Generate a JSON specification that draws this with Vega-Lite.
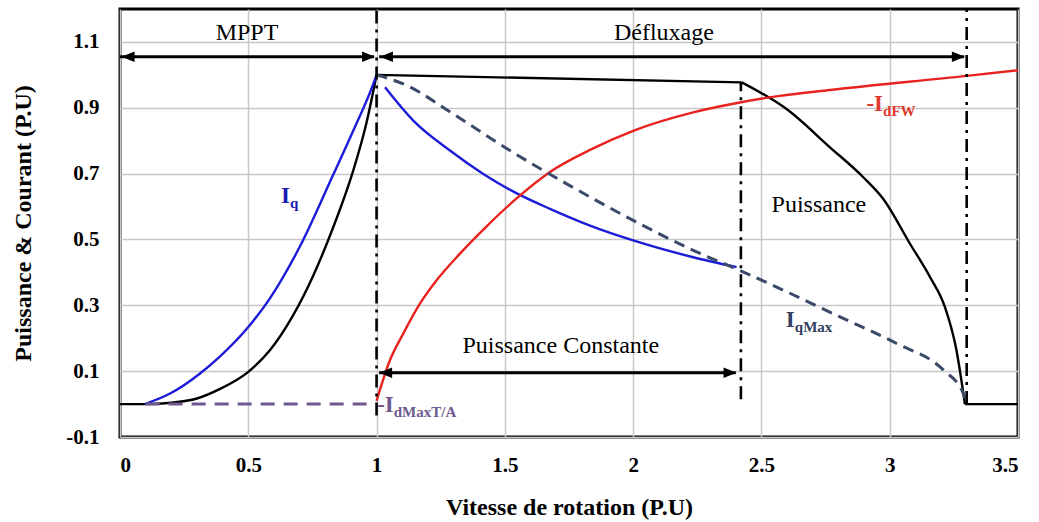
{
  "$schema": "https://vega.github.io/schema/vega-lite/v6.json",
  "width": 898,
  "height": 428,
  "autosize": {"type": "none"},
  "padding": {"left": 120, "top": 9, "right": 21, "bottom": 85},
  "background": "white",
  "config": {
    "view": {"stroke": "black", "strokeWidth": 3},
    "font": "Liberation Serif, Times New Roman, serif",
    "text": {"font": "Liberation Serif, Times New Roman, serif"}
  },
  "resolve": {"scale": {"color": "independent", "strokeDash": "independent"}},
  "datasets": {
    "curves": [
      {"c": "P", "s": "P1", "x": 0, "y": 0},
      {"c": "P", "s": "P1", "x": 0.1, "y": 0},
      {"c": "P", "s": "P1", "x": 0.2, "y": 0.004},
      {"c": "P", "s": "P1", "x": 0.3, "y": 0.017},
      {"c": "P", "s": "P1", "x": 0.39, "y": 0.046},
      {"c": "P", "s": "P1", "x": 0.5, "y": 0.098},
      {"c": "P", "s": "P1", "x": 0.585, "y": 0.164},
      {"c": "P", "s": "P1", "x": 0.675, "y": 0.27},
      {"c": "P", "s": "P1", "x": 0.753, "y": 0.39},
      {"c": "P", "s": "P1", "x": 0.831, "y": 0.537},
      {"c": "P", "s": "P1", "x": 0.909, "y": 0.709},
      {"c": "P", "s": "P1", "x": 0.961, "y": 0.855},
      {"c": "P", "s": "P1", "x": 1.0, "y": 1.0},
      {"c": "P", "s": "P2", "x": 1.0, "y": 1.0},
      {"c": "P", "s": "P2", "x": 2.423, "y": 0.977},
      {"c": "P", "s": "P3", "x": 2.423, "y": 0.977},
      {"c": "P", "s": "P3", "x": 2.598, "y": 0.896},
      {"c": "P", "s": "P3", "x": 2.767, "y": 0.78},
      {"c": "P", "s": "P3", "x": 2.897, "y": 0.689},
      {"c": "P", "s": "P3", "x": 2.975, "y": 0.623},
      {"c": "P", "s": "P3", "x": 3.079, "y": 0.487},
      {"c": "P", "s": "P3", "x": 3.157, "y": 0.386},
      {"c": "P", "s": "P3", "x": 3.215, "y": 0.295},
      {"c": "P", "s": "P3", "x": 3.26, "y": 0.164},
      {"c": "P", "s": "P3", "x": 3.293, "y": 0.0},
      {"c": "P", "s": "P4", "x": 3.293, "y": 0.0},
      {"c": "P", "s": "P4", "x": 3.5, "y": 0.0},
      {"c": "Iq", "s": "Iq1", "x": 0.097, "y": 0},
      {"c": "Iq", "s": "Iq1", "x": 0.195, "y": 0.032},
      {"c": "Iq", "s": "Iq1", "x": 0.312, "y": 0.093},
      {"c": "Iq", "s": "Iq1", "x": 0.39, "y": 0.145},
      {"c": "Iq", "s": "Iq1", "x": 0.5, "y": 0.234},
      {"c": "Iq", "s": "Iq1", "x": 0.585, "y": 0.322},
      {"c": "Iq", "s": "Iq1", "x": 0.7, "y": 0.477},
      {"c": "Iq", "s": "Iq1", "x": 0.83, "y": 0.695},
      {"c": "Iq", "s": "Iq1", "x": 0.909, "y": 0.83},
      {"c": "Iq", "s": "Iq1", "x": 0.987, "y": 0.972},
      {"c": "Iq", "s": "Iq1", "x": 1.0, "y": 1.0},
      {"c": "Iq", "s": "Iq2", "x": 1.033, "y": 0.962},
      {"c": "Iq", "s": "Iq2", "x": 1.143, "y": 0.861},
      {"c": "Iq", "s": "Iq2", "x": 1.286, "y": 0.77},
      {"c": "Iq", "s": "Iq2", "x": 1.416, "y": 0.699},
      {"c": "Iq", "s": "Iq2", "x": 1.539, "y": 0.643},
      {"c": "Iq", "s": "Iq2", "x": 1.676, "y": 0.593},
      {"c": "Iq", "s": "Iq2", "x": 1.832, "y": 0.542},
      {"c": "Iq", "s": "Iq2", "x": 2.0, "y": 0.497},
      {"c": "Iq", "s": "Iq2", "x": 2.234, "y": 0.446},
      {"c": "Iq", "s": "Iq2", "x": 2.403, "y": 0.416},
      {"c": "IdFW", "s": "IdFW", "x": 1.0, "y": 0.01},
      {"c": "IdFW", "s": "IdFW", "x": 1.052, "y": 0.133},
      {"c": "IdFW", "s": "IdFW", "x": 1.104, "y": 0.214},
      {"c": "IdFW", "s": "IdFW", "x": 1.169, "y": 0.305},
      {"c": "IdFW", "s": "IdFW", "x": 1.234, "y": 0.376},
      {"c": "IdFW", "s": "IdFW", "x": 1.325, "y": 0.457},
      {"c": "IdFW", "s": "IdFW", "x": 1.429, "y": 0.54},
      {"c": "IdFW", "s": "IdFW", "x": 1.539, "y": 0.62},
      {"c": "IdFW", "s": "IdFW", "x": 1.676, "y": 0.705},
      {"c": "IdFW", "s": "IdFW", "x": 1.832, "y": 0.772},
      {"c": "IdFW", "s": "IdFW", "x": 2.0, "y": 0.83},
      {"c": "IdFW", "s": "IdFW", "x": 2.234, "y": 0.886},
      {"c": "IdFW", "s": "IdFW", "x": 2.416, "y": 0.916},
      {"c": "IdFW", "s": "IdFW", "x": 2.572, "y": 0.936},
      {"c": "IdFW", "s": "IdFW", "x": 2.767, "y": 0.954},
      {"c": "IdFW", "s": "IdFW", "x": 3.3, "y": 0.997},
      {"c": "IdFW", "s": "IdFW", "x": 3.5, "y": 1.014}
    ],
    "dashed": [
      {"c": "IqMax", "x": 1.0, "y": 1.0},
      {"c": "IqMax", "x": 1.117, "y": 0.968},
      {"c": "IqMax", "x": 1.299, "y": 0.881},
      {"c": "IqMax", "x": 1.52, "y": 0.77},
      {"c": "IqMax", "x": 1.741, "y": 0.669},
      {"c": "IqMax", "x": 2.0, "y": 0.558},
      {"c": "IqMax", "x": 2.234, "y": 0.467},
      {"c": "IqMax", "x": 2.416, "y": 0.406},
      {"c": "IqMax", "x": 2.806, "y": 0.265},
      {"c": "IqMax", "x": 3.027, "y": 0.184},
      {"c": "IqMax", "x": 3.21, "y": 0.103},
      {"c": "IqMax", "x": 3.287, "y": 0.032},
      {"c": "IqMax", "x": 3.3, "y": 0.0},
      {"c": "IdMax", "x": 0.1, "y": 0.0},
      {"c": "IdMax", "x": 1.0, "y": 0.0}
    ],
    "vlines": [
      {"x": 1.0, "y": -0.035, "y2": 1.2},
      {"x": 2.42, "y": 0.015, "y2": 0.977},
      {"x": 3.3, "y": 0.0, "y2": 1.2}
    ],
    "arrows": [
      {"x": 0.0, "x2": 0.99, "y": 1.055},
      {"x": 1.01, "x2": 3.29, "y": 1.055},
      {"x": 1.01, "x2": 2.4, "y": 0.095}
    ],
    "heads": [
      {"x": 0.006, "y": 1.055, "d": "L"},
      {"x": 0.994, "y": 1.055, "d": "R"},
      {"x": 1.013, "y": 1.055, "d": "L"},
      {"x": 3.293, "y": 1.055, "d": "R"},
      {"x": 1.01, "y": 0.095, "d": "L"},
      {"x": 2.403, "y": 0.095, "d": "R"}
    ],
    "notes": [
      {"x": 0.495, "y": 1.106, "t": "MPPT"},
      {"x": 2.12, "y": 1.106, "t": "Défluxage"},
      {"x": 2.724, "y": 0.583, "t": "Puissance"},
      {"x": 1.718, "y": 0.154, "t": "Puissance Constante"}
    ],
    "labels": [
      {"x": 0.6625, "y": 0.612, "m": "I", "sub": "q", "c": "Iq"},
      {"x": 2.63, "y": 0.234, "m": "I", "sub": "qMax", "c": "IqMax"},
      {"x": 2.974, "y": 0.891, "m": "-I", "sub": "dFW", "c": "IdFW"},
      {"x": 1.067, "y": -0.023, "m": "-I", "sub": "dMaxT/A", "c": "IdMax"}
    ]
  },
  "encoding": {
    "x": {
      "field": "x",
      "type": "quantitative",
      "scale": {"domain": [0, 3.5], "nice": false, "zero": false},
      "axis": {
        "title": "Vitesse de rotation (P.U)",
        "values": [0, 0.5, 1, 1.5, 2, 2.5, 3, 3.5],
        "format": "~g",
        "grid": true,
        "gridColor": "#c8c8c8",
        "gridWidth": 1.5,
        "domain": false,
        "ticks": false,
        "labelPadding": 17,
        "labelFont": "Liberation Serif, Times New Roman, serif",
        "labelFontWeight": "bold",
        "labelFontSize": 21,
        "labelColor": "black",
        "titleFont": "Liberation Serif, Times New Roman, serif",
        "titleFontWeight": "bold",
        "titleFontSize": 24,
        "titleColor": "black",
        "titlePadding": 20
      }
    },
    "y": {
      "field": "y",
      "type": "quantitative",
      "scale": {"domain": [-0.1, 1.2], "nice": false, "zero": false},
      "axis": {
        "title": "Puissance & Courant (P.U)",
        "values": [-0.1, 0.1, 0.3, 0.5, 0.7, 0.9, 1.1],
        "format": "~g",
        "labelExpr": "datum.value < 0 ? '-0.1' : datum.label",
        "grid": true,
        "gridColor": "#c8c8c8",
        "gridWidth": 1.5,
        "domain": false,
        "ticks": false,
        "labelPadding": 21,
        "labelFont": "Liberation Serif, Times New Roman, serif",
        "labelFontWeight": "bold",
        "labelFontSize": 21,
        "labelColor": "black",
        "titleFont": "Liberation Serif, Times New Roman, serif",
        "titleFontWeight": "bold",
        "titleFontSize": 24,
        "titleColor": "black",
        "titlePadding": 30
      }
    }
  },
  "layer": [
    {
      "data": {"name": "curves"},
      "mark": {"type": "line", "strokeWidth": 2.4, "interpolate": "monotone"},
      "encoding": {
        "color": {
          "field": "c",
          "type": "nominal",
          "scale": {"domain": ["P", "Iq", "IdFW"], "range": ["#000000", "#1c1cd8", "#e8231f"]},
          "legend": null
        },
        "detail": {"field": "s"}
      }
    },
    {
      "data": {"name": "dashed"},
      "mark": {"type": "line", "strokeWidth": 3, "interpolate": "monotone"},
      "encoding": {
        "color": {
          "field": "c",
          "type": "nominal",
          "scale": {"domain": ["IqMax", "IdMax"], "range": ["#3c4a6a", "#6e5890"]},
          "legend": null
        },
        "strokeDash": {
          "field": "c",
          "type": "nominal",
          "scale": {"domain": ["IqMax", "IdMax"], "range": [[11, 7], [14, 9]]},
          "legend": null
        }
      }
    },
    {
      "data": {"name": "vlines"},
      "mark": {"type": "rule", "color": "black", "strokeWidth": 2.6, "strokeDash": [13, 6, 3, 6]},
      "encoding": {"y2": {"field": "y2"}}
    },
    {
      "data": {"name": "arrows"},
      "mark": {"type": "rule", "color": "black", "strokeWidth": 3},
      "encoding": {"x2": {"field": "x2"}}
    },
    {
      "data": {"name": "heads"},
      "transform": [{"filter": "datum.d == 'R'"}],
      "mark": {"type": "point", "shape": "M0,0L-2,-0.8L-2,0.8Z", "filled": true, "color": "black", "opacity": 1, "size": 169, "strokeWidth": 0}
    },
    {
      "data": {"name": "heads"},
      "transform": [{"filter": "datum.d == 'L'"}],
      "mark": {"type": "point", "shape": "M0,0L2,-0.8L2,0.8Z", "filled": true, "color": "black", "opacity": 1, "size": 169, "strokeWidth": 0}
    },
    {
      "data": {"name": "notes"},
      "mark": {"type": "text", "font": "Liberation Serif, Times New Roman, serif", "fontSize": 24, "align": "center", "baseline": "alphabetic", "color": "black"},
      "encoding": {"text": {"field": "t"}}
    },
    {
      "data": {"name": "labels"},
      "mark": {"type": "text", "font": "Liberation Serif, Times New Roman, serif", "fontSize": 23, "fontWeight": "bold", "align": "right", "baseline": "alphabetic"},
      "encoding": {
        "text": {"field": "m"},
        "color": {
          "field": "c",
          "type": "nominal",
          "scale": {"domain": ["Iq", "IqMax", "IdFW", "IdMax"], "range": ["#1a1ab4", "#33405f", "#e0392f", "#6e5890"]},
          "legend": null
        }
      }
    },
    {
      "data": {"name": "labels"},
      "mark": {"type": "text", "font": "Liberation Serif, Times New Roman, serif", "fontSize": 15, "fontWeight": "bold", "align": "left", "baseline": "alphabetic", "dy": 5},
      "encoding": {
        "text": {"field": "sub"},
        "color": {
          "field": "c",
          "type": "nominal",
          "scale": {"domain": ["Iq", "IqMax", "IdFW", "IdMax"], "range": ["#1a1ab4", "#33405f", "#e0392f", "#6e5890"]},
          "legend": null
        }
      }
    }
  ]
}
